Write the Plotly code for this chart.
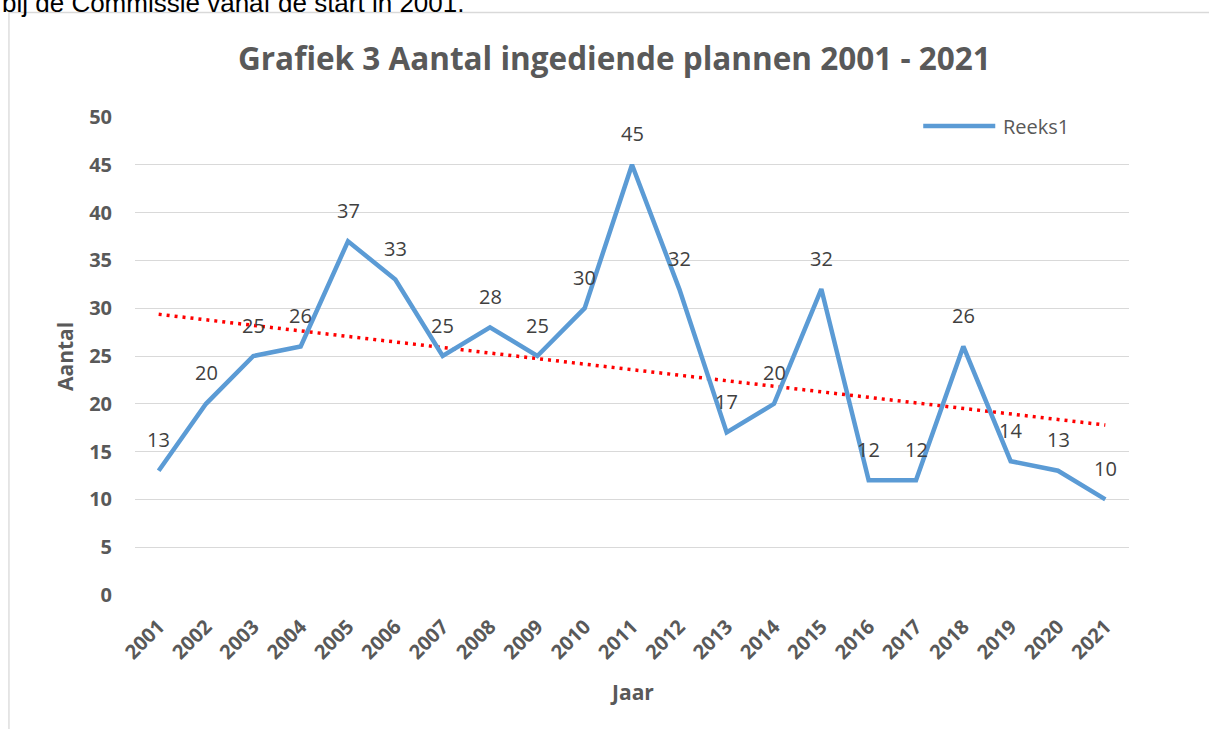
import numpy as np
import plotly.graph_objects as go

# ==============================================================================
# 1. DATA
# ==============================================================================

years = [str(y) for y in range(2001, 2022)]
aantal = [13, 20, 25, 26, 37, 33, 25, 28, 25, 30, 45, 32, 17, 20, 32, 12, 12, 26, 14, 13, 10]
y_ticks = [0, 5, 10, 15, 20, 25, 30, 35, 40, 45, 50]

TITLE = "Grafiek 3 Aantal ingediende plannen 2001 - 2021"
INTRO_TEXT = "bij de Commissie vanaf de start in 2001."
SERIES_NAME = "Reeks1"

# ==============================================================================
# 2. LAYOUT CONSTANTS (pixels)
# ==============================================================================

W, H = 1209, 729
PLOT_L, PLOT_R, PLOT_T, PLOT_B = 135, 1128.7, 117, 595
FONT = "Open Sans"
GREY = "#595959"
LABEL_GREY = "#404040"
GRID = "#d9d9d9"
BLUE = "#5b9bd5"


def px(x, y):
    """pixel position -> paper coordinates"""
    return ((x - PLOT_L) / (PLOT_R - PLOT_L), (PLOT_B - y) / (PLOT_B - PLOT_T))


# linear trendline (least squares, as Excel does)
idx = np.arange(len(aantal))
slope, intercept = np.polyfit(idx, aantal, 1)
trend = slope * idx + intercept

fig = go.Figure()

fig.add_trace(go.Scatter(
    x=years, y=trend, mode="lines", showlegend=False, hoverinfo="skip",
    line=dict(color="#ff0000", width=3.5, dash="3px,5px"),
))
fig.add_trace(go.Scatter(
    x=years, y=aantal, mode="lines", name=SERIES_NAME, showlegend=False,
    line=dict(color=BLUE, width=4.5),
))

annotations = []

# data labels above each point (x given as category index)
for i, v in enumerate(aantal):
    annotations.append(dict(x=i, y=v, xref="x", yref="y", text=str(v), yshift=31,
                            font=dict(family=FONT, size=20, color=LABEL_GREY)))

tx, ty = px(614, 58)
annotations.append(dict(x=tx, y=ty, text=f"<b>{TITLE}</b>", xanchor="center", yanchor="middle",
                        font=dict(family=FONT, size=31.5, color=GREY)))
ix, iy = px(0, 20)
annotations.append(dict(x=ix, y=iy, text=INTRO_TEXT, xanchor="left", yanchor="bottom",
                        font=dict(family="Liberation Sans", size=26, color="#000000")))
ax_, ay_ = px(65, 356)
annotations.append(dict(x=ax_, y=ay_, text="<b>Aantal</b>", textangle=-90, xanchor="center",
                        yanchor="middle", font=dict(family=FONT, size=21, color=GREY)))
jx, jy = px(632, 692)
annotations.append(dict(x=jx, y=jy, text="<b>Jaar</b>", xanchor="center", yanchor="middle",
                        font=dict(family=FONT, size=21, color=GREY)))
lx, ly = px(1001, 126)
annotations.append(dict(x=lx, y=ly, text=SERIES_NAME, xanchor="left", yanchor="middle",
                        font=dict(family=FONT, size=20, color=GREY)))
for a in annotations:
    a.setdefault("xref", "paper")
    a.setdefault("yref", "paper")
    a["showarrow"] = False
    fig.add_annotation(**a)

# legend swatch and chart border
sx0, sy = px(923, 126)
sx1, _ = px(995, 126)
fig.add_shape(type="line", xref="paper", yref="paper", x0=sx0, x1=sx1, y0=sy, y1=sy,
              line=dict(color=BLUE, width=4.5))
bx0, by0 = px(9, 12.5)
bx1, by1 = px(1300, 800)
fig.add_shape(type="rect", xref="paper", yref="paper", x0=bx0, x1=bx1, y0=by0, y1=by1,
              line=dict(color=GRID, width=1.3), layer="below")

fig.update_layout(
    width=W, height=H,
    margin=dict(l=PLOT_L, r=W - PLOT_R, t=PLOT_T, b=H - PLOT_B, pad=0),
    paper_bgcolor="white", plot_bgcolor="white",
    showlegend=False,
    font=dict(family=FONT, color=GREY),
)
fig.update_xaxes(
    type="category", range=[-0.5, len(years) - 0.5], tickangle=-45,
    showgrid=False, showline=False, ticks="", ticklabelstandoff=15,
    tickfont=dict(family=FONT, size=20, color=GREY, weight="bold"),
)
fig.update_yaxes(
    range=[0, 50], tickvals=y_ticks, showgrid=True, gridcolor=GRID, gridwidth=1.3,
    zeroline=False, showline=False, ticks="", ticklabelstandoff=22,
    tickfont=dict(family=FONT, size=20, color=GREY, weight="bold"),
)

fig.write_html("out.html", config={"displayModeBar": False},
               post_script="document.body.style.margin='0';")
